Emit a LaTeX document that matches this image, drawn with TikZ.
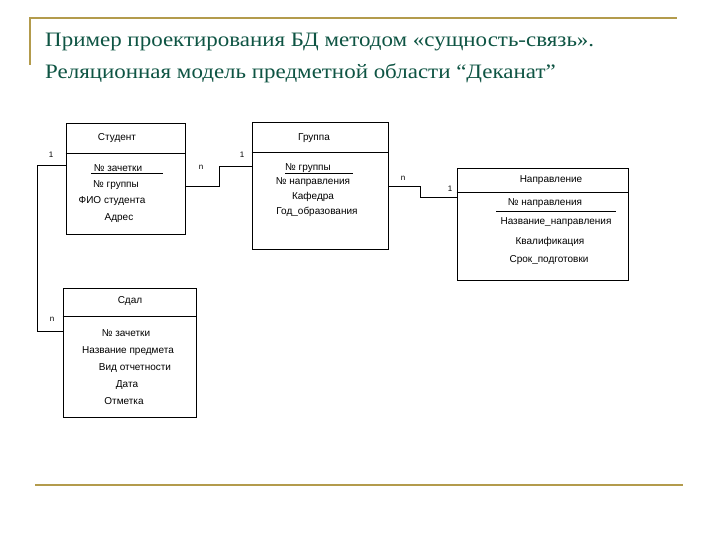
\documentclass[tikz,border=0pt]{standalone}
\usepackage{fontspec}
\setmainfont{Liberation Serif}
\newfontfamily\titlefont[FakeStretch=1.12]{Liberation Serif}
\newfontfamily\boxfont{Liberation Sans}
\definecolor{titlegreen}{HTML}{0E5443}
\definecolor{gold}{HTML}{B39B4C}
\begin{document}
\begin{tikzpicture}[x=1pt,y=-1pt,
  entity/.style={draw=black,line width=0.9pt,inner sep=0pt,rectangle},
  fld/.style={font=\boxfont\fontsize{10}{12}\selectfont,inner sep=0pt,anchor=center,yshift=-1pt},
  card/.style={font=\boxfont\fontsize{8}{9}\selectfont,inner sep=0pt,anchor=center},
  link/.style={draw=black,line width=0.9pt},
  rule/.style={draw=gold,line width=2.2pt},
  ttl/.style={font=\titlefont\fontsize{20.5}{24}\selectfont,text=titlegreen,inner sep=0pt,anchor=base west}]
\useasboundingbox (0,0) rectangle (720,540);
% decorative rules
\draw[rule] (30,65) -- (30,18) -- (677,18);
\draw[rule] (35,485) -- (683,485);
% title
\node[ttl] (t1) at (45,47) {Пример проектирования БД методом «сущность-связь».};
\node[ttl] (t2) at (45,79) {Реляционная модель предметной области “Деканат”};
% entities
\node[entity,minimum width=119pt,minimum height=111pt] (stud) at (125.5,178.5) {};
\node[entity,minimum width=136pt,minimum height=127pt] (grp) at (320,185.5) {};
\node[entity,minimum width=171pt,minimum height=112pt] (napr) at (542.5,224) {};
\node[entity,minimum width=133pt,minimum height=129pt] (sdal) at (129.5,352.5) {};
% header dividers
\draw[line width=0.9pt] (stud.west |- 0,153) -- (stud.east |- 0,153);
\draw[line width=0.9pt] (grp.west |- 0,152) -- (grp.east |- 0,152);
\draw[line width=0.9pt] (napr.west |- 0,192) -- (napr.east |- 0,192);
\draw[line width=0.9pt] (sdal.west |- 0,316) -- (sdal.east |- 0,316);
% Student
\node[fld] (s0) at (117,137) {Студент};
\node[fld] (s1) at (118,167) {№ зачетки};
\draw[line width=0.8pt] (91,173) -- (163,173);
\node[fld] (s2) at (116,184) {№ группы};
\node[fld] (s3) at (112,200) {ФИО студента};
\node[fld] (s4) at (119,217) {Адрес};
% Group
\node[fld] (g0) at (314,137) {Группа};
\node[fld] (g1) at (308,167) {№ группы};
\draw[line width=0.8pt] (285,173) -- (353,173);
\node[fld] (g2) at (313,181) {№ направления};
\node[fld] (g3) at (313,196) {Кафедра};
\node[fld] (g4) at (317,211) {Год\_образования};
% Napravlenie
\node[fld] (n0) at (551,179) {Направление};
\node[fld] (n1) at (545,202) {№ направления};
\draw[line width=0.8pt] (496,211) -- (616,211);
\node[fld] (n2) at (556,221) {Название\_направления};
\node[fld] (n3) at (550,241) {Квалификация};
\node[fld] (n4) at (549,259) {Срок\_подготовки};
% Sdal
\node[fld] (d0) at (130,300) {Сдал};
\node[fld] (d1) at (126,332) {№ зачетки};
\node[fld] (d2) at (128,350) {Название предмета};
\node[fld] (d3) at (135,367) {Вид отчетности};
\node[fld] (d4) at (127,384) {Дата};
\node[fld] (d5) at (124,400) {Отметка};
% connectors
\draw[link] (stud.west |- 0,165) -- (37,165) -- (37,331) -- (sdal.west |- 0,331);
\draw[link] (stud.east |- 0,186) -- (219,186) -- (219,166) -- (grp.west |- 0,166);
\draw[link] (grp.east |- 0,186) -- (420,186) -- (420,197) -- (napr.west |- 0,197);
% cardinalities
\node[card] (c1) at (51,155) {1};
\node[card] (c2) at (52,319) {n};
\node[card] (c3) at (201,167) {n};
\node[card] (c4) at (242,155) {1};
\node[card] (c5) at (403,178) {n};
\node[card] (c6) at (450,189) {1};
\end{tikzpicture}
\end{document}
